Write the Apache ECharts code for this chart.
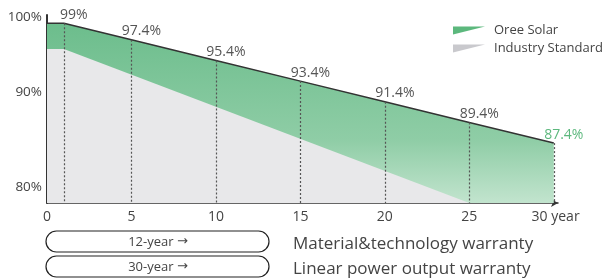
<!DOCTYPE html>
<html>
<head>
<meta charset="utf-8">
<script src="https://cdn.jsdelivr.net/npm/echarts@6/dist/echarts.min.js"></script>
<style>
  html, body { margin: 0; padding: 0; background: #fff; }
  #chart { width: 605px; height: 280px; }
</style>
</head>
<body>
<div id="chart"></div>
<script>
// data
const years = [0, 1, 5, 10, 15, 20, 25, 30];
const oreeValues = [99, 99, 97.4, 95.4, 93.4, 91.4, 89.4, 87.4];
const industryYears = [0, 1, 25];
const industryValues = [96.5, 96.5, 81.6];
const seriesNames = ['Oree Solar', 'Industry Standard'];
const yTickLabels = ['80%', '90%', '100%'];
const yTickAt = [83.1, 92.3, 99.6];
const warrantyTerms = ['12-year', '30-year'];
const warrantyNames = ['Material&technology warranty', 'Linear power output warranty'];

const yMin = 81.6, yMax = 99.8;
const FONT = '"Open Sans", sans-serif';
const green = '#5cb87d';
const gray = '#c9c9cd';

const chart = echarts.init(document.getElementById('chart'), null, { renderer: 'canvas' });

const oreeData = years.map((y, i) => ({
    value: [y, oreeValues[i]],
    label: {
        show: i > 0,
        color: i === years.length - 1 ? green : '#555'
    }
}));

// dotted drop lines under each labelled point
const dropLines = years.slice(1).map((y, i) => [
    { coord: [y, oreeValues[i + 1]] },
    { coord: [y, yMin] }
]);

const boxes = [];
warrantyTerms.forEach((t, i) => {
    const top = 231 + i * 25;
    boxes.push({
        type: 'rect',
        shape: { x: 46, y: top, width: 223, height: 21, r: 10.5 },
        style: { fill: '#fff', stroke: '#222', lineWidth: 1.2 }
    });
    boxes.push({
        type: 'text',
        x: 158, y: top + 11,
        style: {
            text: '{t|' + t + '} {a|\u2192}',
            align: 'center',
            verticalAlign: 'middle',
            rich: {
                t: { fill: '#444', fontFamily: FONT, fontSize: 13 },
                a: { fill: '#444', fontFamily: '"DejaVu Sans", sans-serif', fontSize: 13 }
            }
        }
    });
    boxes.push({
        type: 'text',
        x: 293, y: top + 13,
        style: { text: warrantyNames[i], fill: '#444', font: '17px ' + FONT, align: 'left', verticalAlign: 'middle' }
    });
});

chart.setOption({
    animation: false,
    grid: { left: 47, right: 47, top: 15, bottom: 77 },
    legend: {
        orient: 'vertical',
        left: 448,
        top: 19,
        itemWidth: 32,
        itemHeight: 8,
        itemGap: 5,
        icon: 'path://M0,0 L32,0 L0,8 Z',
        textStyle: { fontFamily: FONT, fontSize: 13, color: '#444', padding: [0, 0, 0, 4] },
        data: [
            { name: seriesNames[0], itemStyle: { color: green } },
            { name: seriesNames[1], itemStyle: { color: gray } }
        ]
    },
    xAxis: {
        type: 'value',
        min: 0,
        max: 30.25,
        interval: 5,
        splitLine: { show: false },
        axisTick: { show: false },
        axisLine: {
            show: true,
            onZero: false,
            lineStyle: { color: '#333', width: 1.5 },
            symbol: ['none', 'arrow'],
            symbolSize: [6, 7]
        },
        axisLabel: {
            margin: 7,
            fontFamily: FONT,
            fontSize: 14,
            color: '#444',
            formatter: v => (v % 5 !== 0 ? '' : (v === 30 ? ' 30 year' : String(v)))
        }
    },
    yAxis: {
        type: 'value',
        min: yMin,
        max: yMax,
        splitLine: { show: false },
        axisTick: { show: false },
        axisLine: { show: true, lineStyle: { color: '#333', width: 2 } },
        axisLabel: {
            customValues: yTickAt,
            margin: 5,
            fontFamily: FONT,
            fontSize: 13.5,
            color: '#444',
            formatter: v => yTickLabels[yTickAt.indexOf(v)] || ''
        }
    },
    series: [
        {
            name: seriesNames[0],
            type: 'line',
            data: oreeData,
            symbol: 'circle',
            symbolSize: 1,
            itemStyle: { color: 'rgba(0,0,0,0)' },
            lineStyle: { color: '#333', width: 1.5 },
            areaStyle: {
                opacity: 1,
                color: new echarts.graphic.LinearGradient(0, 0, 0, 1, [
                    { offset: 0, color: '#6cbd8c' },
                    { offset: 0.65, color: '#8fcda6' },
                    { offset: 1, color: '#c2e4ce' }
                ])
            },
            label: {
                position: 'top',
                distance: 1,
                offset: [10, 0],
                fontFamily: FONT,
                fontSize: 14,
                formatter: p => p.value[1] + '%'
            },
            markLine: {
                silent: true,
                symbol: ['none', 'none'],
                label: { show: false },
                lineStyle: { color: '#555', width: 1.2, type: [2, 2] },
                data: dropLines
            }
        },
        {
            name: seriesNames[1],
            type: 'line',
            data: industryYears.map((y, i) => [y, industryValues[i]]),
            showSymbol: false,
            itemStyle: { color: gray },
            lineStyle: { width: 0 },
            areaStyle: { color: '#e8e8ea', opacity: 1 }
        }
    ],
    graphic: boxes
});
</script>
</body>
</html>
